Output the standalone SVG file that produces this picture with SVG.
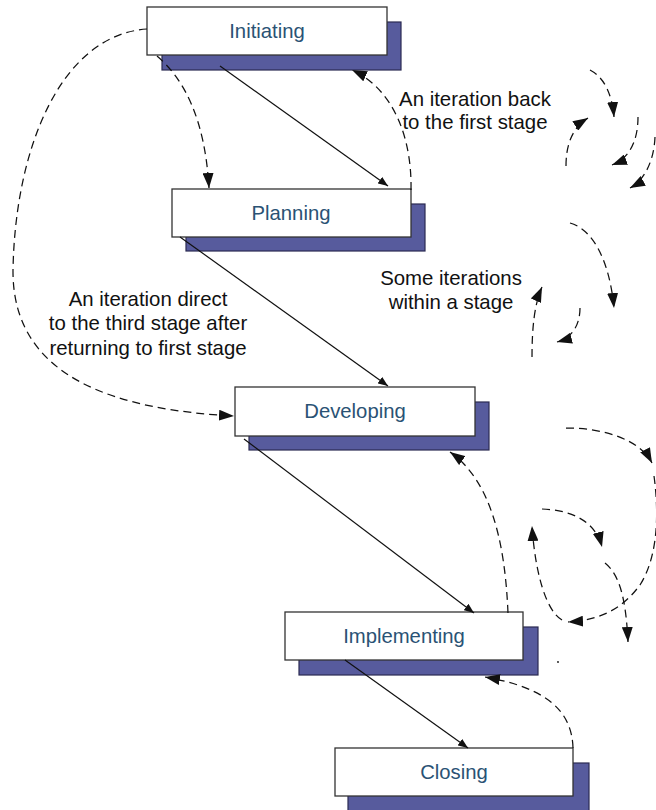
<svg xmlns="http://www.w3.org/2000/svg" width="656" height="810" viewBox="0 0 656 810">
  <style>
    .shadow { fill: #575b9d; stroke: #2a2a52; stroke-width: 1.2; }
    .card { fill: #ffffff; stroke: #333333; stroke-width: 1.3; }
    .label { font-family: "Liberation Sans", Arial, sans-serif; font-size: 20.3px; fill: #2a5274; text-anchor: middle; dominant-baseline: central; }
    .note { font-family: "Liberation Sans", Arial, sans-serif; font-size: 20.4px; fill: #111111; text-anchor: middle; }
    .flow { fill: none; stroke: #111111; stroke-width: 1.2; marker-end: url(#headS); }
    .loop { fill: none; stroke: #111111; stroke-width: 1.25; stroke-dasharray: 8 5; marker-end: url(#headD); }
  </style>
  <defs>
    <marker id="headS" viewBox="0 0 10 8" refX="10" refY="4" markerWidth="10" markerHeight="8" markerUnits="userSpaceOnUse" orient="auto">
      <path d="M0,0 L10,4 L0,8 z" fill="#111111"/>
    </marker>
    <marker id="headD" viewBox="0 0 15 11" refX="15" refY="5.5" markerWidth="15" markerHeight="11" markerUnits="userSpaceOnUse" orient="auto">
      <path d="M0,0 L15,5.5 L0,11 z" fill="#111111"/>
    </marker>
  </defs>

  <rect width="656" height="810" fill="#ffffff"/>

  <!-- stage cards -->
  <g id="initiating">
    <rect class="shadow" x="162" y="22" width="239" height="48"/>
    <rect class="card" x="147" y="7" width="240" height="48"/>
    <text class="label" x="267" y="31">Initiating</text>
  </g>
  <g id="planning">
    <rect class="shadow" x="186" y="204" width="239" height="47"/>
    <rect class="card" x="172" y="189" width="239" height="48"/>
    <text class="label" x="291" y="213">Planning</text>
  </g>
  <g id="developing">
    <rect class="shadow" x="249" y="402" width="240" height="48"/>
    <rect class="card" x="235" y="387" width="240" height="49"/>
    <text class="label" x="355" y="411">Developing</text>
  </g>
  <g id="implementing">
    <rect class="shadow" x="299" y="627" width="239" height="48"/>
    <rect class="card" x="285" y="612" width="238" height="48"/>
    <text class="label" x="404" y="636">Implementing</text>
  </g>
  <g id="closing">
    <rect class="shadow" x="348" y="763" width="241" height="60"/>
    <rect class="card" x="335" y="748" width="238" height="48"/>
    <text class="label" x="454" y="772">Closing</text>
  </g>

  <!-- connectors -->
  <g id="connectors">
    <!-- forward flow -->
    <path class="flow" d="M220,66 L388,186"/>
    <path class="flow" d="M180,237 L388,386"/>
    <path class="flow" d="M244,439 L474,613"/>
    <path class="flow" d="M345,660 L468,748"/>

    <!-- iterations between stages -->
    <path class="loop" d="M157,56 C185,80 205,120 209,188"/>
    <path class="loop" d="M147,29 C60,35 15,150 13,270 C12,380 120,410 234,416"/>
    <path class="loop" d="M411,190 C412,140 395,90 352,70"/>
    <path class="loop" d="M508,613 C505,540 490,480 450,452"/>
    <path class="loop" d="M573,748 C572,712 548,688 485,677"/>

    <!-- iterations within a stage -->
    <path class="loop" d="M590,70 C605,78 612,95 614,117"/>
    <path class="loop" d="M638,117 C638,140 630,158 612,165"/>
    <path class="loop" d="M655,137 C654,160 645,180 630,188"/>
    <path class="loop" d="M566,166 C566,145 572,128 588,118"/>

    <path class="loop" d="M570,223 C595,230 610,265 614,308"/>
    <path class="loop" d="M580,308 C580,325 572,338 557,342"/>
    <path class="loop" d="M532,357 C532,330 534,305 542,287"/>

    <path class="loop" d="M566,428 C605,428 640,440 652,463"/>
    <path class="loop" d="M654,476 C660,520 656,560 640,585 C625,605 605,620 568,622"/>
    <path class="loop" d="M562,620 C545,610 535,570 532,526"/>
    <path class="loop" d="M542,509 C570,510 595,520 602,547"/>
    <path class="loop" d="M605,563 C620,575 626,600 628,642"/>
    <circle cx="558" cy="662" r="0.9" fill="#111111"/>
  </g>

  <!-- annotations -->
  <text class="note" x="475" y="106">An iteration back</text>
  <text class="note" x="475" y="129">to the first stage</text>
  <text class="note" x="451" y="285">Some iterations</text>
  <text class="note" x="451" y="309">within a stage</text>
  <text class="note" x="148" y="306">An iteration direct</text>
  <text class="note" x="148" y="330">to the third stage after</text>
  <text class="note" x="148" y="355">returning to first stage</text>
</svg>
